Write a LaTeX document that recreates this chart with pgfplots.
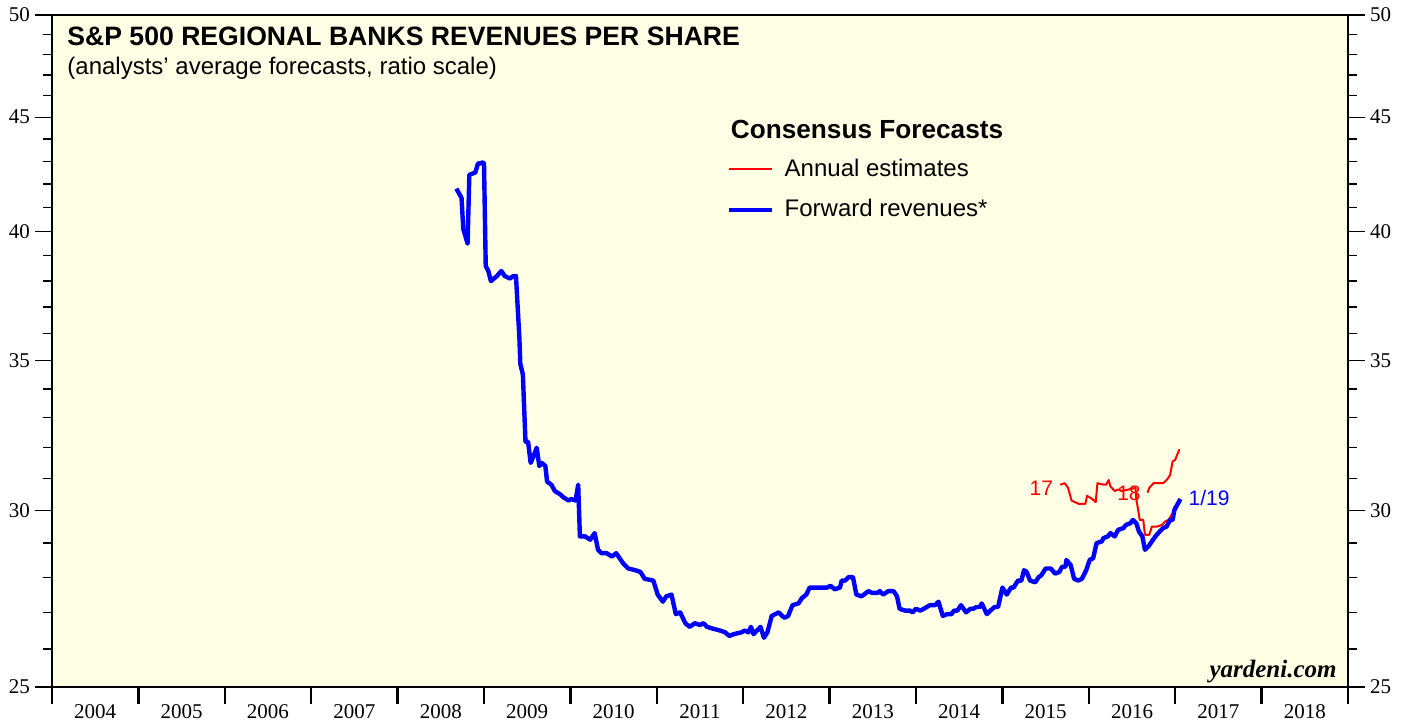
\documentclass[border=0pt]{standalone}
\usepackage{fontspec}
\setmainfont{Liberation Serif}
\newfontfamily\hv{Liberation Sans}
\usepackage{pgfplots}
\pgfplotsset{compat=1.18}
\definecolor{paper}{RGB}{255,255,230}
\definecolor{fred}{RGB}{255,0,0}
\definecolor{fblue}{RGB}{0,0,255}

\begin{document}
\begin{tikzpicture}
\begin{axis}[name=ax,scale only axis,width=648pt,height=336pt,
  xmin=2004,xmax=2019,ymode=log,ymin=25,ymax=50,
  ytick={25,30,35,40,45,50},yticklabels={25,30,35,40,45,50},
  minor ytick={26,27,28,29,31,32,33,34,36,37,38,39,41,42,43,44,46,47,48,49},
  tick align=outside,major tick length=8.5pt,minor tick length=4.5pt,
  tick label style={font=\fontsize{10.5}{12}\selectfont},
  axis background/.style={fill=paper},
  axis line style={line width=1.2pt},
  xtick={2004,2005,...,2019},
  xticklabels={2004,2005,2006,2007,2008,2009,2010,2011,2012,2013,2014,2015,2016,2017,2018,},
  xticklabel style={xshift=21.6pt,yshift=3pt},
  x tick style={line width=1.2pt,black},
  y tick style={line width=0.6pt,black},
  xtick pos=left,ytick pos=both,
  yticklabel style={xshift=1pt},
  legend cell align=left,
  legend image code/.code={\draw[#1] (0pt,0pt) -- (21.5pt,0pt);},
  legend style={at={(rel axis cs:0.5200,0.792)},anchor=north west,draw=none,fill=none,
    inner sep=0pt,row sep=6pt,column sep=3.5pt,font=\hv\fontsize{12}{14}\selectfont},
  line join=round]

\addplot[fred,line width=1pt] coordinates {
(2015.67,30.8)(2015.72,30.85)(2015.76,30.7)(2015.80,30.3)(2015.84,30.25)(2015.88,30.2)
(2015.96,30.2)(2015.98,30.45)(2016.04,30.35)(2016.08,30.25)(2016.10,30.85)(2016.17,30.8)
(2016.20,30.8)(2016.23,30.95)(2016.25,30.75)(2016.30,30.6)(2016.34,30.65)(2016.38,30.6)
(2016.46,30.65)(2016.54,30.7)(2016.55,30.35)(2016.59,29.7)(2016.63,29.7)(2016.65,29.25)
(2016.70,29.25)(2016.73,29.5)(2016.79,29.5)(2016.85,29.55)(2016.88,29.65)(2016.92,29.7)
(2016.97,29.9)(2016.99,30.1)(2017.06,30.25)};
\addlegendentry{Annual estimates}
\addplot[fred,line width=1pt,forget plot] coordinates {
(2016.68,30.55)(2016.70,30.7)(2016.75,30.85)(2016.82,30.85)(2016.86,30.85)(2016.90,30.95)
(2016.94,31.1)(2016.97,31.55)(2017.00,31.6)(2017.02,31.75)(2017.05,31.95)};

\addplot[fblue,line width=2.2pt] coordinates {
(2008.68,41.8)(2008.74,41.4)(2008.76,40.1)(2008.81,39.5)(2008.83,42.4)(2008.90,42.5)
(2008.93,42.9)(2008.96,42.9)(2008.985,42.95)(2009.00,42.9)(2009.02,38.6)(2009.05,38.4)
(2009.08,38.0)(2009.15,38.2)(2009.20,38.4)(2009.24,38.2)(2009.30,38.1)(2009.34,38.2)
(2009.37,38.2)(2009.41,35.8)(2009.42,34.9)(2009.45,34.5)(2009.48,32.2)(2009.51,32.2)
(2009.54,31.5)(2009.57,31.7)(2009.61,32.0)(2009.64,31.4)(2009.67,31.5)(2009.71,31.4)
(2009.73,30.9)(2009.78,30.8)(2009.82,30.6)(2009.88,30.5)(2009.92,30.4)(2009.98,30.3)
(2010.01,30.35)(2010.06,30.3)(2010.09,30.8)(2010.11,29.2)(2010.17,29.2)(2010.23,29.1)
(2010.28,29.3)(2010.32,28.8)(2010.36,28.7)(2010.42,28.7)(2010.48,28.6)(2010.53,28.7)
(2010.57,28.55)(2010.61,28.4)(2010.67,28.25)(2010.75,28.2)(2010.81,28.15)(2010.86,27.95)
(2010.96,27.9)(2011.01,27.5)(2011.07,27.3)(2011.11,27.45)(2011.17,27.5)(2011.22,26.95)
(2011.27,27.0)(2011.33,26.7)(2011.38,26.6)(2011.44,26.7)(2011.50,26.65)(2011.54,26.7)
(2011.58,26.6)(2011.65,26.55)(2011.73,26.5)(2011.79,26.45)(2011.84,26.35)(2011.89,26.4)
(2011.98,26.45)(2012.02,26.5)(2012.06,26.45)(2012.09,26.6)(2012.12,26.4)(2012.16,26.5)
(2012.20,26.6)(2012.24,26.3)(2012.28,26.45)(2012.33,26.9)(2012.41,27.0)(2012.45,26.9)
(2012.48,26.85)(2012.52,26.9)(2012.57,27.2)(2012.64,27.25)(2012.68,27.4)(2012.73,27.5)
(2012.77,27.7)(2012.97,27.7)(2013.01,27.75)(2013.06,27.65)(2013.12,27.7)(2013.14,27.9)
(2013.18,27.9)(2013.22,28.0)(2013.27,28.0)(2013.31,27.5)(2013.37,27.45)(2013.45,27.6)
(2013.49,27.55)(2013.56,27.55)(2013.58,27.6)(2013.62,27.5)(2013.68,27.6)(2013.74,27.6)
(2013.78,27.45)(2013.81,27.1)(2013.87,27.05)(2013.93,27.05)(2013.96,27.0)(2014.00,27.1)
(2014.05,27.05)(2014.09,27.1)(2014.16,27.2)(2014.22,27.2)(2014.26,27.3)(2014.31,26.9)
(2014.36,26.95)(2014.41,26.95)(2014.44,27.05)(2014.48,27.05)(2014.52,27.2)(2014.58,27.0)
(2014.63,27.1)(2014.66,27.1)(2014.70,27.15)(2014.74,27.15)(2014.76,27.25)(2014.82,26.95)
(2014.86,27.05)(2014.91,27.15)(2014.95,27.15)(2015.00,27.7)(2015.05,27.5)(2015.10,27.7)
(2015.13,27.7)(2015.18,27.9)(2015.22,27.9)(2015.25,28.2)(2015.28,28.15)(2015.32,27.9)
(2015.38,27.85)(2015.42,28.0)(2015.45,28.05)(2015.50,28.25)(2015.56,28.25)(2015.61,28.1)
(2015.66,28.15)(2015.69,28.3)(2015.73,28.3)(2015.74,28.5)(2015.79,28.35)(2015.83,27.95)
(2015.88,27.9)(2015.92,27.95)(2015.97,28.2)(2016.01,28.5)(2016.05,28.55)(2016.09,29.0)
(2016.15,29.05)(2016.17,29.15)(2016.22,29.2)(2016.25,29.3)(2016.30,29.2)(2016.34,29.4)
(2016.40,29.45)(2016.43,29.55)(2016.48,29.6)(2016.51,29.7)(2016.55,29.6)(2016.58,29.35)
(2016.62,29.2)(2016.65,28.8)(2016.69,28.9)(2016.73,29.05)(2016.77,29.2)(2016.82,29.35)
(2016.86,29.45)(2016.90,29.5)(2016.94,29.7)(2016.97,29.7)(2016.99,30.0)(2017.02,30.15)
(2017.06,30.35)};
\addlegendentry{Forward revenues*}

\node[anchor=base west,inner sep=0pt,font=\hv\bfseries\fontsize{13.3}{15}\selectfont]
  at (rel axis cs:0.0116,0.955) {S\&P 500 REGIONAL BANKS REVENUES PER SHARE};
\node[anchor=base west,inner sep=0pt,font=\hv\fontsize{12}{14}\selectfont]
  at (rel axis cs:0.0116,0.912) {(analysts’ average forecasts, ratio scale)};
\node[anchor=base west,inner sep=0pt,font=\hv\bfseries\fontsize{13.1}{15}\selectfont]
  at (rel axis cs:0.5235,0.8155) {Consensus Forecasts};
\node[anchor=east,inner sep=0pt,text=fred,font=\hv\fontsize{10.5}{12}\selectfont]
  at (axis cs:2015.59,30.7) {17};
\node[inner sep=0pt,text=fred,font=\hv\fontsize{10.5}{12}\selectfont]
  at (axis cs:2016.465,30.54) {18};
\node[anchor=west,inner sep=0pt,text=fblue,font=\hv\fontsize{10.5}{12}\selectfont]
  at (axis cs:2017.15,30.38) {1/19};
\node[anchor=base east,inner sep=0pt,font=\bfseries\itshape\fontsize{12.5}{14}\selectfont]
  at (rel axis cs:0.9915,0.0134) {yardeni.com};
\end{axis}

\begin{axis}[scale only axis,width=648pt,height=336pt,
  xmin=2004,xmax=2019,ymode=log,ymin=25,ymax=50,
  ytick={25,30,35,40,45,50},yticklabels={25,30,35,40,45,50},minor ytick={},
  tick align=outside,major tick length=8.5pt,
  tick label style={font=\fontsize{10.5}{12}\selectfont},
  xtick=\empty,axis line style={draw=none},
  yticklabel pos=right,ytick pos=right,y tick style={draw=none},
  yticklabel style={xshift=-1pt}]
\end{axis}

\pgfresetboundingbox
\path ([shift={(-26pt,-17pt)}]ax.south west) rectangle ([shift={(29.5pt,7.5pt)}]ax.north east);
\end{tikzpicture}
\end{document}
